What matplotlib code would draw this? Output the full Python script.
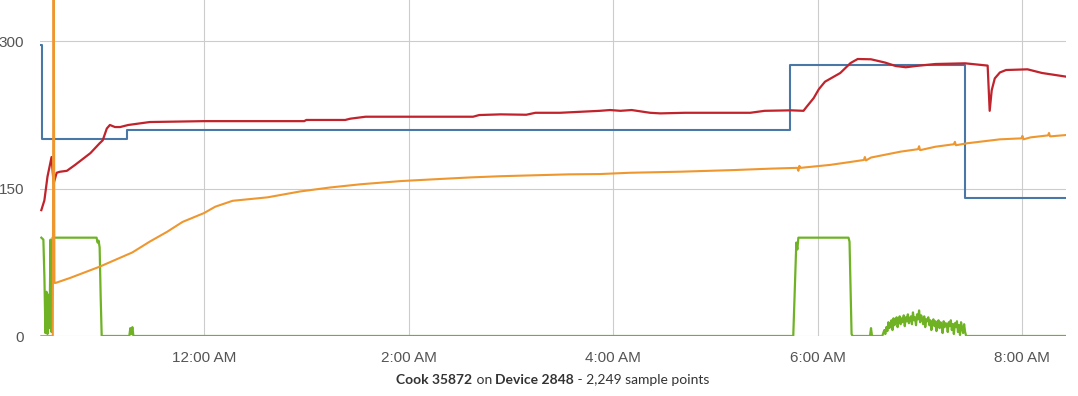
import numpy as np
import matplotlib
matplotlib.use('Agg')
import matplotlib.pyplot as plt

# hours relative to midnight (negative = evening before)
set_t = [-1.593, -1.588, -0.753, 5.728, 7.44, 8.43]
set_v = [296, 200, 210, 276, 140, 140]

pit_t = [-1.59, -1.56, -1.53, -1.49, -1.47, -1.44, -1.41, -1.34, -1.26, -1.11, -1.02, -0.99,
         -0.95, -0.92, -0.87, -0.82, -0.74, -0.53, 0.0, 0.98, 1.00, 1.38, 1.43, 1.58, 2.63,
         2.69, 2.90, 3.15, 3.24, 3.48, 3.87, 3.97, 4.07, 4.18, 4.36, 4.46, 4.70, 5.34, 5.48,
         5.74, 5.86, 5.89, 5.96, 6.01, 6.07, 6.22, 6.32, 6.39, 6.52, 6.66, 6.76, 6.86, 6.96,
         7.15, 7.44, 7.66, 7.68, 7.70, 7.73, 7.78, 7.84, 8.05, 8.19, 8.43]
pit_v = [128, 138, 162, 182, 155, 166, 167, 168, 174, 186, 196, 199,
         211, 214.6, 212.5, 212.5, 214.6, 217.6, 218.5, 218.5, 219.7, 219.7, 221, 223, 223,
         224.7, 225.4, 225, 227, 227, 229, 229.8, 229, 229.8, 227, 226.4, 227, 227, 229,
         229.5, 229, 233, 242, 251, 258.6, 267.5, 277.6, 281.7, 281.4, 278, 274.6, 273.3, 274.6,
         276.6, 277.3, 275, 229, 250, 262, 268, 270.5, 271.2, 267.5, 263.7]

food_t = [-1.59, -1.478, -1.47, -1.462, -1.45, -1.31, -1.02, -0.70, -0.53, -0.36, -0.21, 0.0,
          0.11, 0.28, 0.62, 0.94, 1.23, 1.53, 1.93, 2.31, 2.61, 2.90, 3.25, 3.57, 3.87, 4.16,
          4.66, 5.19, 5.54, 5.80, 5.81, 5.82, 5.83, 6.12, 6.32, 6.45, 6.46, 6.47, 6.52, 6.81,
          6.98, 6.99, 7.00, 7.15, 7.33, 7.34, 7.35, 7.46, 7.78, 7.99, 8.00, 8.01, 8.08, 8.25,
          8.26, 8.27, 8.43]
food_v = [0, 0, 420, 54, 54, 59, 70.5, 85, 96, 106, 116, 125,
          131.5, 137.5, 141, 147, 151, 154.3, 157.6, 159.7, 161.3, 162.5, 163.5, 164.4, 164.7, 166,
          167.1, 168.8, 170.2, 171, 168, 173, 171, 174, 177, 179, 182, 178.5, 181.5, 187.5,
          190, 193, 189, 192.5, 195, 197.5, 194, 196, 200, 201, 203.5, 200, 202, 204,
          206.5, 203, 204.4]

fan_t = [-1.59, -1.57, -1.56, -1.55, -1.54, -1.53, -1.52, -1.51, -1.50, -1.49, -1.48, -1.05,
         -1.04, -1.03, -1.02, -1.01, -1.00, -0.73, -0.72, -0.71, -0.70, -0.69, 5.76, 5.79, 5.80,
         5.81, 6.30, 6.31, 6.33, 6.34, 6.51, 6.52, 6.53,
         6.63, 6.64, 6.65, 6.66, 6.67, 6.68, 6.69, 6.70, 6.71, 6.72, 6.73, 6.74, 6.75, 6.76,
         6.77, 6.78, 6.79, 6.80, 6.81, 6.82, 6.83, 6.84, 6.85, 6.86, 6.87, 6.88, 6.89, 6.90,
         6.91, 6.92, 6.93, 6.94, 6.95, 6.96, 6.97, 6.98, 6.99, 7.00, 7.01, 7.02, 7.03, 7.04,
         7.05, 7.06, 7.07, 7.08, 7.09, 7.10, 7.11, 7.12, 7.13, 7.14, 7.15, 7.16, 7.17, 7.18,
         7.19, 7.20, 7.21, 7.22, 7.23, 7.24, 7.25, 7.26, 7.27, 7.28, 7.29, 7.30, 7.31, 7.32,
         7.33, 7.34, 7.35, 7.36, 7.37, 7.38, 7.39, 7.40, 7.41, 7.42, 7.43, 7.44, 7.45,
         8.43]
fan_v = [100, 98, 60, 3, 45, 2, 42, 8, 98, 4, 100, 100,
         95, 97, 90, 40, 0, 0, 8, 2, 9, 0, 0, 95, 88,
         100, 100, 96, 2, 0, 0, 8, 0,
         0, 3, 6, 2, 9, 5, 14, 8, 12, 16, 6, 18, 11, 15,
         19, 9, 16, 20, 12, 18, 14, 21, 10, 19, 15, 22, 13, 17,
         20, 12, 24, 16, 19, 11, 22, 17, 26, 14, 21, 18, 12, 20,
         9, 17, 15, 19, 11, 16, 6, 14, 17, 10, 15, 5, 13, 16,
         8, 14, 11, 3, 15, 9, 13, 12, 4, 14, 10, 16, 6, 12,
         2, 13, 9, 15, 4, 11, 1, 14, 8, 3, 12, 4, 0,
         0]

tick_hours = [0, 2, 4, 6, 8]
tick_labels = ['12:00 AM', '2:00 AM', '4:00 AM', '6:00 AM', '8:00 AM']
y_ticks = [0, 150, 300]

fig = plt.figure(figsize=(10.78, 3.96), dpi=100)
ax = fig.add_axes([40 / 1078, 60 / 396, 1026 / 1078, 336 / 396])

ax.step(set_t, set_v, where='post', color='#4a78a6', lw=1.5, zorder=3)
ax.plot(pit_t, pit_v, color='#c0232b', lw=1.6, zorder=4)
ax.plot(fan_t, fan_v, color='#6fb325', lw=1.6, zorder=5)
ax.plot(food_t, food_v, color='#ee972f', lw=1.5, zorder=6)

ax.set_xlim(-1.603, 8.426)
ax.set_ylim(0, 341.7)
ax.set_xticks(tick_hours)
ax.set_xticklabels(tick_labels)
ax.set_yticks(y_ticks)
ax.grid(True, color='#cccccc', lw=0.8)
ax.set_axisbelow(True)
for s in ax.spines.values():
    s.set_visible(False)
ax.tick_params(length=0, labelsize=11, labelcolor='#555555', pad=11)
ax.tick_params(axis='y', pad=11.5)
for lab in ax.get_xticklabels() + ax.get_yticklabels():
    lab.set_family('Liberation Sans')

# caption with mixed bold pieces
parts = [('Cook 35872', 'bold'), (' on ', 'normal'), ('Device 2848', 'bold'),
         (' - 2,249 sample points', 'normal')]
texts = []
for s, w in parts:
    texts.append(fig.text(0, 16 / 396, s, fontsize=10, fontweight=w, family='Lato',
                          color='#333333', va='center', ha='left'))
fig.canvas.draw()
r = fig.canvas.get_renderer()
widths = [t.get_window_extent(r).width for t in texts]
x0 = 553 - sum(widths) / 2
for t, wd in zip(texts, widths):
    t.set_x(x0 / 1078)
    x0 += wd

fig.savefig('out.png', dpi=100)
